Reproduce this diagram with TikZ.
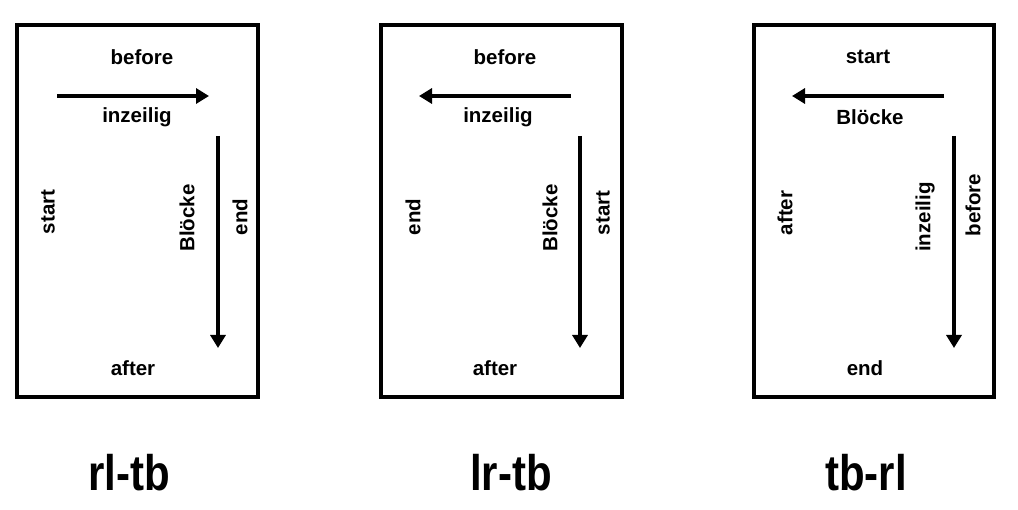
\documentclass[tikz,border=0pt]{standalone}
\usepackage{fontspec}
\setmainfont{Liberation Sans}
\usetikzlibrary{arrows.meta}
\tikzset{
  frame/.style={draw=black, line width=3.5pt},
  lbl/.style={font=\fontsize{20.5}{24}\selectfont\bfseries, inner sep=0pt},
  vlbl/.style={lbl, rotate=90},
  big/.style={font=\fontsize{50}{56}\selectfont\bfseries, inner sep=0pt, anchor=base},
  flow/.style={line width=3.5pt, -{Triangle[length=13pt,width=15pt]}}
}
\begin{document}
\begin{tikzpicture}[x=1pt,y=-1pt]
\useasboundingbox (0,0) rectangle (1018,510);
% box 1 : rl-tb
\draw[frame] (17,25) rectangle (258,397);
\node[lbl] (b1before) at (142,57) {before};
\node[lbl] (b1inz) at (137,117) {inzeilig};
\node[lbl] (b1after) at (133,368) {after};
\node[vlbl] (b1start) at (48,212) {start};
\node[vlbl] (b1blo) at (187,218) {Blöcke};
\node[vlbl] (b1end) at (240,217) {end};
\coordinate (b1h0) at (57,96);
\coordinate (b1h1) at (209,96);
\coordinate (b1v0) at (218,136);
\coordinate (b1v1) at (218,348);
\draw[flow] (b1h0) -- (b1h1);
\draw[flow] (b1v0) -- (b1v1);
\node[big] (t1) at (129,490) {\scalebox{0.84}[1]{rl-tb}};
% box 2 : lr-tb
\draw[frame] (381,25) rectangle (622,397);
\node[lbl] (b2before) at (505,57) {before};
\node[lbl] (b2inz) at (498,117) {inzeilig};
\node[lbl] (b2after) at (495,368) {after};
\node[vlbl] (b2end) at (413,217) {end};
\node[vlbl] (b2blo) at (550,218) {Blöcke};
\node[vlbl] (b2start) at (603,213) {start};
\coordinate (b2h0) at (571,96);
\coordinate (b2h1) at (419,96);
\coordinate (b2v0) at (580,136);
\coordinate (b2v1) at (580,348);
\draw[flow] (b2h0) -- (b2h1);
\draw[flow] (b2v0) -- (b2v1);
\node[big] (t2) at (511,490) {\scalebox{0.84}[1]{lr-tb}};
% box 3 : tb-rl
\draw[frame] (754,25) rectangle (994,397);
\node[lbl] (b3start) at (868,57) {start};
\node[lbl] (b3blo) at (870,117) {Blöcke};
\node[lbl] (b3end) at (865,368) {end};
\node[vlbl] (b3after) at (785,213) {after};
\node[vlbl] (b3inz) at (925,217) {inzeilig};
\node[vlbl] (b3before) at (973,205) {before};
\coordinate (b3h0) at (944,96);
\coordinate (b3h1) at (792,96);
\coordinate (b3v0) at (954,136);
\coordinate (b3v1) at (954,348);
\draw[flow] (b3h0) -- (b3h1);
\draw[flow] (b3v0) -- (b3v1);
\node[big] (t3) at (866,490) {\scalebox{0.84}[1]{tb-rl}};
\end{tikzpicture}
\end{document}
